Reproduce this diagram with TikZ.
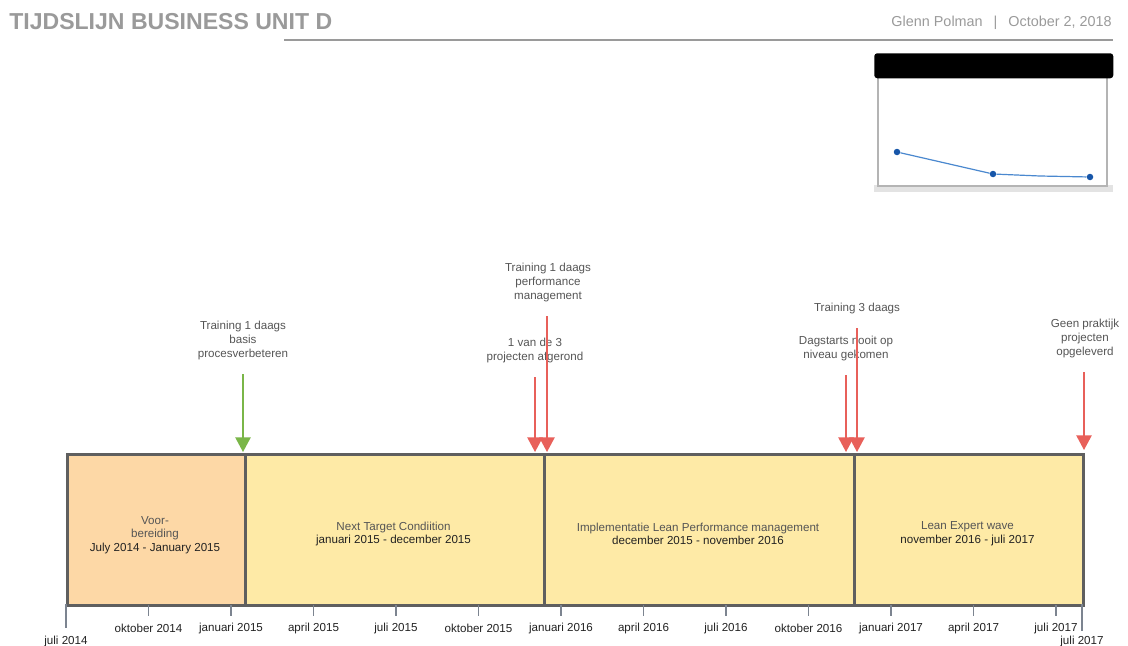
\documentclass[tikz,border=0pt]{standalone}
\usepackage{fontspec}
\setmainfont{Liberation Sans}
\usetikzlibrary{arrows.meta}
\newdimen\pxu \pxu=0.75pt
\definecolor{hdrgray}{HTML}{9A9A9A}
\definecolor{framegray}{HTML}{5F5F5F}
\definecolor{peach}{HTML}{FDD8A6}
\definecolor{sand}{HTML}{FEEAA6}
\definecolor{leafgreen}{HTML}{7AB648}
\definecolor{coral}{HTML}{E8605A}
\definecolor{txtgray}{HTML}{555555}
\definecolor{txtdark}{HTML}{222222}
\definecolor{tickgray}{HTML}{7C8490}
\definecolor{plotblue}{HTML}{4A88CF}
\definecolor{dotblue}{HTML}{1756A9}
\definecolor{panelgray}{HTML}{B4B4B4}
\begin{document}
\begin{tikzpicture}[x=0.75pt,y=-0.75pt,
  lbl/.style={font=\fontsize{8.7}{10.5}\selectfont, text=txtgray, align=center, inner sep=0},
  phase/.style={draw=framegray, line width=2.2pt, minimum height=151\pxu, anchor=north west, inner sep=0},
  phasetext/.style={inner sep=0, align=center, font=\fontsize{8.7}{10.2}\selectfont, text=txtgray},
  ticklbl/.style={font=\fontsize{8.7}{10}\selectfont, text=txtdark, inner sep=0},
  tickline/.style={draw=tickgray, line width=1.1pt},
  milestone/.style={line width=1.1pt, -{Triangle[width=11.5pt,length=11pt]}},
  dot/.style={circle, fill=dotblue, inner sep=0, minimum size=6.5\pxu},
]
\useasboundingbox (0,0) rectangle (1128,646);

% header
\node[anchor=west, inner sep=0, text=hdrgray, font=\fontsize{17.3}{20}\selectfont\bfseries]
  (title) at (9,22) {TIJDSLIJN BUSINESS UNIT D};
\node[anchor=east, inner sep=0, text=hdrgray, font=\fontsize{10.8}{13}\selectfont]
  (byline) at (1112,23) {Glenn Polman\hspace{11\pxu}|\hspace{11\pxu}October 2, 2018};
\coordinate (rulestart) at (284,40);
\coordinate (ruleend) at (1113,40);
\draw[hdrgray, line width=0.9pt] (rulestart) -- (ruleend);

% small chart widget
\fill[gray!22] (874,185) rectangle (1113,192);
\draw[panelgray, line width=1.1pt, fill=white] (878,76) rectangle (1107,186);
\node[fill=black, rounded corners=3\pxu, minimum width=239\pxu, minimum height=25\pxu,
  anchor=north west, inner sep=0] (chartbar) at (874,53) {};
\node[dot] (d1) at (897,152) {};
\node[dot] (d2) at (993,174) {};
\node[dot] (d3) at (1090,177) {};
\draw[plotblue, line width=0.9pt] (d1) -- (d2) -- (1040,176) -- (d3);

% phases
\node[phase, fill=peach, minimum width=178\pxu] (p1) at (66,453) {};
\node[phase, fill=sand, minimum width=299\pxu] (p2) at (244,453) {};
\node[phase, fill=sand, minimum width=310\pxu] (p3) at (543,453) {};
\node[phase, fill=sand, minimum width=229\pxu] (p4) at (853,453) {};
\node[phasetext] (p1t) at (155,535)
  {Voor-\\bereiding\\{\color{txtdark}July 2014 - January 2015}};
\node[phasetext] (p2t) at (393.5,534)
  {Next Target Condiition\\{\color{txtdark}januari 2015 - december 2015}};
\node[phasetext] (p3t) at (698,534)
  {Implementatie Lean Performance management\\{\color{txtdark}december 2015 - november 2016}};
\node[phasetext] (p4t) at (967.5,534)
  {Lean Expert wave\\{\color{txtdark}november 2016 - juli 2017}};

% time axis
\coordinate (axL0) at (66,604);   \coordinate (axL1) at (66,628);
\coordinate (axR0) at (1082,604); \coordinate (axR1) at (1082,631);
\draw[tickline] (axL0) -- (axL1);
\draw[tickline] (axR0) -- (axR1);
\node[ticklbl] (tl0) at (66,641) {juli 2014};
\node[ticklbl] (tlE) at (1082,641) {juli 2017};
\foreach \i/\xx/\txt in {1/148.5/oktober 2014, 2/231/januari 2015, 3/313.5/april 2015,
    4/396/juli 2015, 5/478.5/oktober 2015, 6/561/januari 2016, 7/643.5/april 2016,
    8/726/juli 2016, 9/808.5/oktober 2016, 10/891/januari 2017, 11/973.5/april 2017,
    12/1056/juli 2017} {
  \coordinate (tk\i a) at (\xx,605);
  \coordinate (tk\i b) at (\xx,616);
  \draw[tickline] (tk\i a) -- (tk\i b);
  \node[ticklbl] (tl\i) at (\xx,628) {\txt};
}

% milestone labels
\node[lbl] (mA) at (243,340) {Training 1 daags\\basis\\procesverbeteren};
\node[lbl] (mB) at (548,282) {Training 1 daags\\performance\\management};
\node[lbl] (mC) at (535,350) {1 van de 3\\projecten afgerond};
\node[lbl] (mD) at (857,308) {Training 3 daags};
\node[lbl] (mE) at (846,348) {Dagstarts nooit op\\niveau gekomen};
\node[lbl] (mF) at (1085,338) {Geen praktijk\\projecten\\opgeleverd};

% milestone arrows
\coordinate (aA0) at (243,374);  \coordinate (aA1) at (243,452);
\coordinate (aC0) at (535,377);  \coordinate (aC1) at (535,452);
\coordinate (aB0) at (547,316);  \coordinate (aB1) at (547,452);
\coordinate (aE0) at (846,375);  \coordinate (aE1) at (846,452);
\coordinate (aD0) at (857,328);  \coordinate (aD1) at (857,452);
\coordinate (aF0) at (1084,372); \coordinate (aF1) at (1084,450);
\draw[milestone, leafgreen] (aA0) -- (aA1);
\draw[milestone, coral] (aC0) -- (aC1);
\draw[milestone, coral] (aB0) -- (aB1);
\draw[milestone, coral] (aE0) -- (aE1);
\draw[milestone, coral] (aD0) -- (aD1);
\draw[milestone, coral] (aF0) -- (aF1);
\end{tikzpicture}
\end{document}
